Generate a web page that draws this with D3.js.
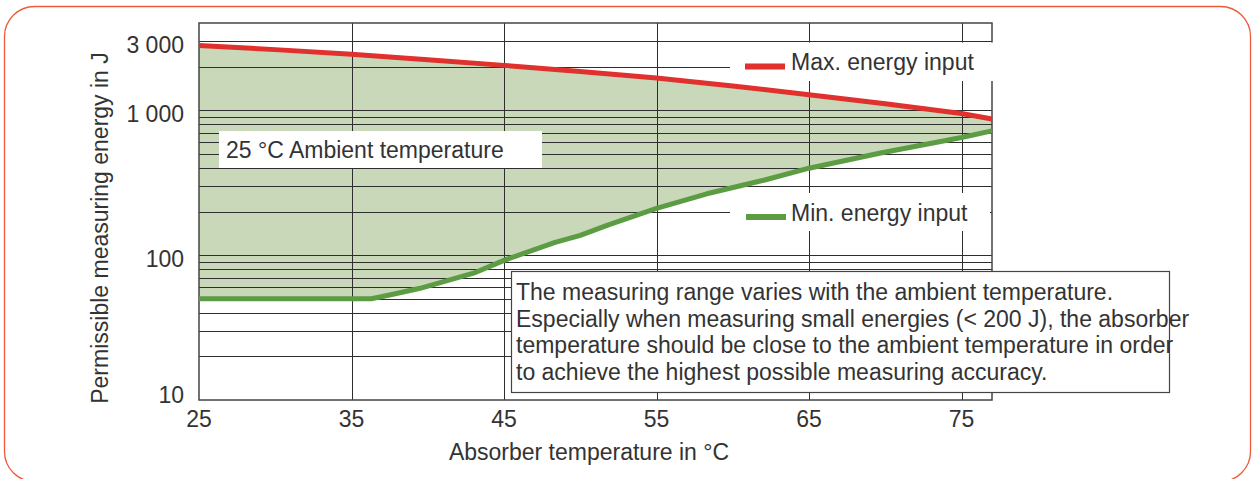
<!DOCTYPE html>
<html lang="en">
<head>
<meta charset="UTF-8">
<title>Permissible measuring energy</title>
<script src="https://d3js.org/d3.v7.min.js"></script>
<style>
  body { margin: 0; background: #fff; font-family: "Liberation Sans", Arial, sans-serif; }
  svg text { fill: #333; font-size: 23px; }
</style>
</head>
<body>
<div id="chart"></div>
<script>
  // Data
  const maxTemps = [25, 30, 35, 40, 45, 50, 55, 60, 65, 70, 75, 77];
  const maxEnergy = [2800, 2620, 2430, 2230, 2040, 1850, 1670, 1470, 1280, 1110, 950, 870];

  const minTemps = [25, 36.3, 37.5, 39.5, 43, 45, 48.3, 50, 51.8, 55, 58.3, 62.1, 65, 69.7, 75, 77];
  const minEnergy = [50, 50, 53, 59, 75, 92, 122, 137, 161, 210, 265, 330, 398, 507, 648, 720];

  const xTicks = [25, 35, 45, 55, 65, 75];
  const yTicks = [10, 100, 1000, 3000];
  const yTickLabels = ["10", "100", "1 000", "3 000"];
  const noteLines = [
    "The measuring range varies with the ambient temperature.",
    "Especially when measuring small energies (< 200 J), the absorber",
    "temperature should be close to the ambient temperature in order",
    "to achieve the highest possible measuring accuracy."
  ];

  const W = 1257, H = 479;
  const plot = { left: 199, right: 992, top: 23, bottom: 400 };

  const svg = d3.select('#chart').append('svg')
    .attr('width', W).attr('height', H);

  const x = d3.scaleLinear().domain([25, 77]).range([plot.left, plot.right]);
  const y = d3.scaleLog().domain([10, 4000]).range([plot.bottom, plot.top]);
  const crisp = v => Math.round(v) + 0.5;

  // outer frame
  svg.append('rect')
    .attr('x', 4.5).attr('y', 6.5).attr('width', 1246).attr('height', 475)
    .attr('rx', 30).attr('ry', 30)
    .attr('fill', 'none').attr('stroke', '#ef5a3c').attr('stroke-width', 1.3);

  const maxPts = maxTemps.map((t, i) => [x(t), y(maxEnergy[i])]);
  const minPts = minTemps.map((t, i) => [x(t), y(minEnergy[i])]);

  // fill between min and max
  const line = d3.line();
  svg.append('path')
    .attr('d', line(maxPts.concat(minPts.slice().reverse())) + 'Z')
    .attr('fill', '#c9d8b9');

  // grid
  const gridVals = [];
  [10, 100, 1000].forEach(d => {
    for (let k = 1; k <= 9; k++) {
      const v = d * k;
      if (v > 10 && v < 4000) gridVals.push(v);
    }
  });
  svg.append('g').selectAll('line').data(gridVals).join('line')
    .attr('x1', plot.left).attr('x2', plot.right)
    .attr('y1', d => crisp(y(d))).attr('y2', d => crisp(y(d)))
    .attr('stroke', '#2e2e2e').attr('stroke-width', 1);
  svg.append('g').selectAll('line').data(xTicks.slice(1)).join('line')
    .attr('x1', d => crisp(x(d))).attr('x2', d => crisp(x(d)))
    .attr('y1', plot.top).attr('y2', plot.bottom)
    .attr('stroke', '#2e2e2e').attr('stroke-width', 1);

  svg.append('rect')
    .attr('x', plot.left).attr('y', plot.top)
    .attr('width', plot.right - plot.left).attr('height', plot.bottom - plot.top)
    .attr('fill', 'none').attr('stroke', '#444').attr('stroke-width', 1.5);

  // curves
  svg.append('path').attr('d', line(maxPts))
    .attr('fill', 'none').attr('stroke', '#e0312e').attr('stroke-width', 5);
  svg.append('path').attr('d', line(minPts))
    .attr('fill', 'none').attr('stroke', '#5c9d43').attr('stroke-width', 5)
    .attr('stroke-linejoin', 'round');

  // white label boxes
  function box(x0, y0, x1, y1, stroke) {
    svg.append('rect')
      .attr('x', x0).attr('y', y0).attr('width', x1 - x0).attr('height', y1 - y0)
      .attr('fill', '#fff')
      .attr('stroke', stroke || 'none').attr('stroke-width', 1.2);
  }

  box(730, 42.5, 994, 81);
  svg.append('line').attr('x1', 745).attr('x2', 785).attr('y1', 66.5).attr('y2', 66.5)
    .attr('stroke', '#e0312e').attr('stroke-width', 6);
  svg.append('text').attr('x', 791).attr('y', 70).text('Max. energy input');

  box(730, 193, 990, 231);
  svg.append('line').attr('x1', 746).attr('x2', 786).attr('y1', 217).attr('y2', 217)
    .attr('stroke', '#5c9d43').attr('stroke-width', 6);
  svg.append('text').attr('x', 791).attr('y', 221).text('Min. energy input');

  box(219, 131, 542, 168);
  svg.append('text').attr('x', 226).attr('y', 158).text('25 °C Ambient temperature');

  box(511.5, 271.5, 1169.5, 392.5, '#444');
  svg.append('g').selectAll('text').data(noteLines).join('text')
    .attr('x', 516).attr('y', (d, i) => 300 + i * 26.5)
    .text(d => d);

  // axis labels
  svg.append('g').selectAll('text').data(xTicks).join('text')
    .attr('x', d => x(d)).attr('y', 427)
    .attr('text-anchor', 'middle')
    .text(d => d);

  svg.append('g').selectAll('text').data(yTicks).join('text')
    .attr('x', 184)
    .attr('y', d => Math.min(y(d) + 12, plot.bottom + 3))
    .attr('text-anchor', 'end')
    .text((d, i) => yTickLabels[i]);

  svg.append('text')
    .attr('x', 589).attr('y', 460)
    .attr('text-anchor', 'middle')
    .text('Absorber temperature in °C');

  svg.append('text')
    .attr('transform', 'translate(108,228) rotate(-90)')
    .attr('text-anchor', 'middle')
    .text('Permissible measuring energy in J');
</script>
</body>
</html>
